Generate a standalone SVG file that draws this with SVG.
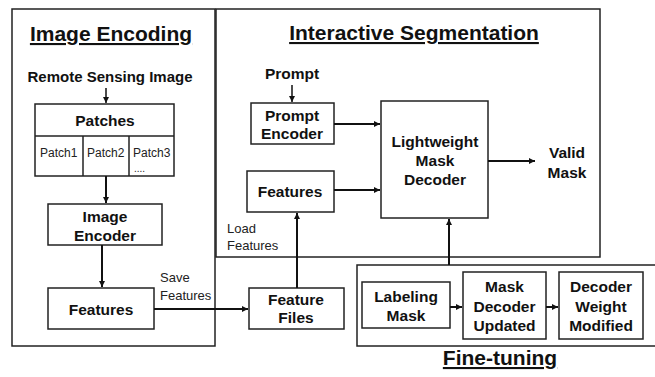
<svg xmlns="http://www.w3.org/2000/svg" width="655" height="377" viewBox="0 0 655 377">
<style>
.frame{fill:none;stroke:#222;stroke-width:1.5}
.box{fill:#fff;stroke:#222;stroke-width:1.5}
.t{font-family:"Liberation Sans",Arial,sans-serif;font-weight:bold;font-size:15.5px;fill:#111;text-anchor:middle}
.title{font-family:"Liberation Sans",Arial,sans-serif;font-weight:bold;font-size:21px;fill:#111;text-anchor:middle;text-decoration:underline}
.s{font-family:"Liberation Sans",Arial,sans-serif;font-size:12px;fill:#222}
.c{fill:none;stroke:#111;stroke-width:2}
</style>
<defs>
<marker id="ah" markerWidth="8" markerHeight="8" refX="6" refY="3" orient="auto" markerUnits="userSpaceOnUse">
<path d="M0,0 L6,3 L0,6 Z" fill="#111"/>
</marker>
</defs>
<rect x="0" y="0" width="655" height="377" fill="#fff"/>
<g id="frames">
<rect class="frame" x="12" y="9" width="203" height="337"/>
<rect class="frame" x="216" y="9" width="384" height="248"/>
<rect class="frame" x="357" y="265" width="305" height="81"/>
<text class="title" x="111" y="41">Image Encoding</text>
<text class="title" x="414" y="40">Interactive Segmentation</text>
<text class="title" x="500" y="365">Fine-tuning</text>
</g>
<g id="rsi"><text class="t" x="110" y="82" style="font-size:15px">Remote Sensing Image</text></g>
<g id="patches">
<rect class="box" x="35" y="104" width="139" height="72"/>
<line class="box" x1="35" y1="136" x2="174" y2="136"/>
<line class="box" x1="83" y1="136" x2="83" y2="176"/>
<line class="box" x1="129" y1="136" x2="129" y2="176"/>
<text class="t" x="105" y="126">Patches</text>
<text class="s" x="40" y="157">Patch1</text>
<text class="s" x="87" y="157">Patch2</text>
<text class="s" x="133" y="157">Patch3</text>
<text class="s" x="134" y="172" style="font-size:10px">....</text>
</g>
<g id="image-encoder">
<rect class="box" x="48" y="204" width="114" height="41"/>
<text class="t" x="105" y="222">Image</text>
<text class="t" x="105" y="241">Encoder</text>
</g>
<g id="features-ie">
<rect class="box" x="48" y="288" width="106" height="41"/>
<text class="t" x="101" y="315">Features</text>
</g>
<g id="feature-files">
<rect class="box" x="249" y="288" width="95" height="41"/>
<text class="t" x="296" y="305">Feature</text>
<text class="t" x="296" y="323">Files</text>
</g>
<g id="prompt"><text class="t" x="292" y="79">Prompt</text></g>
<g id="prompt-encoder">
<rect class="box" x="251" y="103" width="83" height="41"/>
<text class="t" x="292" y="121">Prompt</text>
<text class="t" x="292" y="139">Encoder</text>
</g>
<g id="features-is">
<rect class="box" x="247" y="171" width="87" height="41"/>
<text class="t" x="290" y="197">Features</text>
</g>
<g id="decoder">
<rect class="box" x="381" y="101" width="107" height="117"/>
<text class="t" x="435" y="147">Lightweight</text>
<text class="t" x="435" y="166">Mask</text>
<text class="t" x="435" y="185">Decoder</text>
</g>
<g id="valid-mask">
<text class="t" x="567" y="158">Valid</text>
<text class="t" x="567" y="178">Mask</text>
</g>
<g id="labeling-mask">
<rect class="box" x="362" y="282" width="88" height="46"/>
<text class="t" x="406" y="302">Labeling</text>
<text class="t" x="406" y="321">Mask</text>
</g>
<g id="mdu">
<rect class="box" x="463" y="272" width="83" height="67"/>
<text class="t" x="504.5" y="292">Mask</text>
<text class="t" x="504.5" y="312">Decoder</text>
<text class="t" x="504.5" y="331">Updated</text>
</g>
<g id="dwm">
<rect class="box" x="559" y="272" width="84" height="67"/>
<text class="t" x="601" y="292">Decoder</text>
<text class="t" x="601" y="312">Weight</text>
<text class="t" x="601" y="331">Modified</text>
</g>
<g id="labels">
<text class="s" x="160" y="282" style="font-size:13px">Save</text>
<text class="s" x="160" y="300" style="font-size:13px">Features</text>
<text class="s" x="227" y="233" style="font-size:13px">Load</text>
<text class="s" x="227" y="250" style="font-size:13px">Features</text>
</g>
<g id="connectors">
<line class="c" x1="106" y1="88" x2="106" y2="103" marker-end="url(#ah)" style="stroke-width:1.5"/>
<line class="c" x1="106" y1="176" x2="106" y2="203" marker-end="url(#ah)"/>
<line class="c" x1="102" y1="245" x2="102" y2="287" marker-end="url(#ah)"/>
<line class="c" x1="154" y1="309" x2="248" y2="309" marker-end="url(#ah)"/>
<line class="c" x1="297" y1="288" x2="297" y2="213" marker-end="url(#ah)"/>
<line class="c" x1="292" y1="85" x2="292" y2="102" marker-end="url(#ah)" style="stroke-width:1.5"/>
<line class="c" x1="334" y1="124" x2="380" y2="124" marker-end="url(#ah)"/>
<line class="c" x1="334" y1="190" x2="380" y2="190" marker-end="url(#ah)"/>
<line class="c" x1="488" y1="161" x2="535" y2="161" marker-end="url(#ah)"/>
<line class="c" x1="449" y1="265" x2="449" y2="219" marker-end="url(#ah)"/>
<line class="c" x1="450" y1="307" x2="462" y2="307" marker-end="url(#ah)"/>
<line class="c" x1="546" y1="307" x2="558" y2="307" marker-end="url(#ah)"/>
</g>
</svg>
